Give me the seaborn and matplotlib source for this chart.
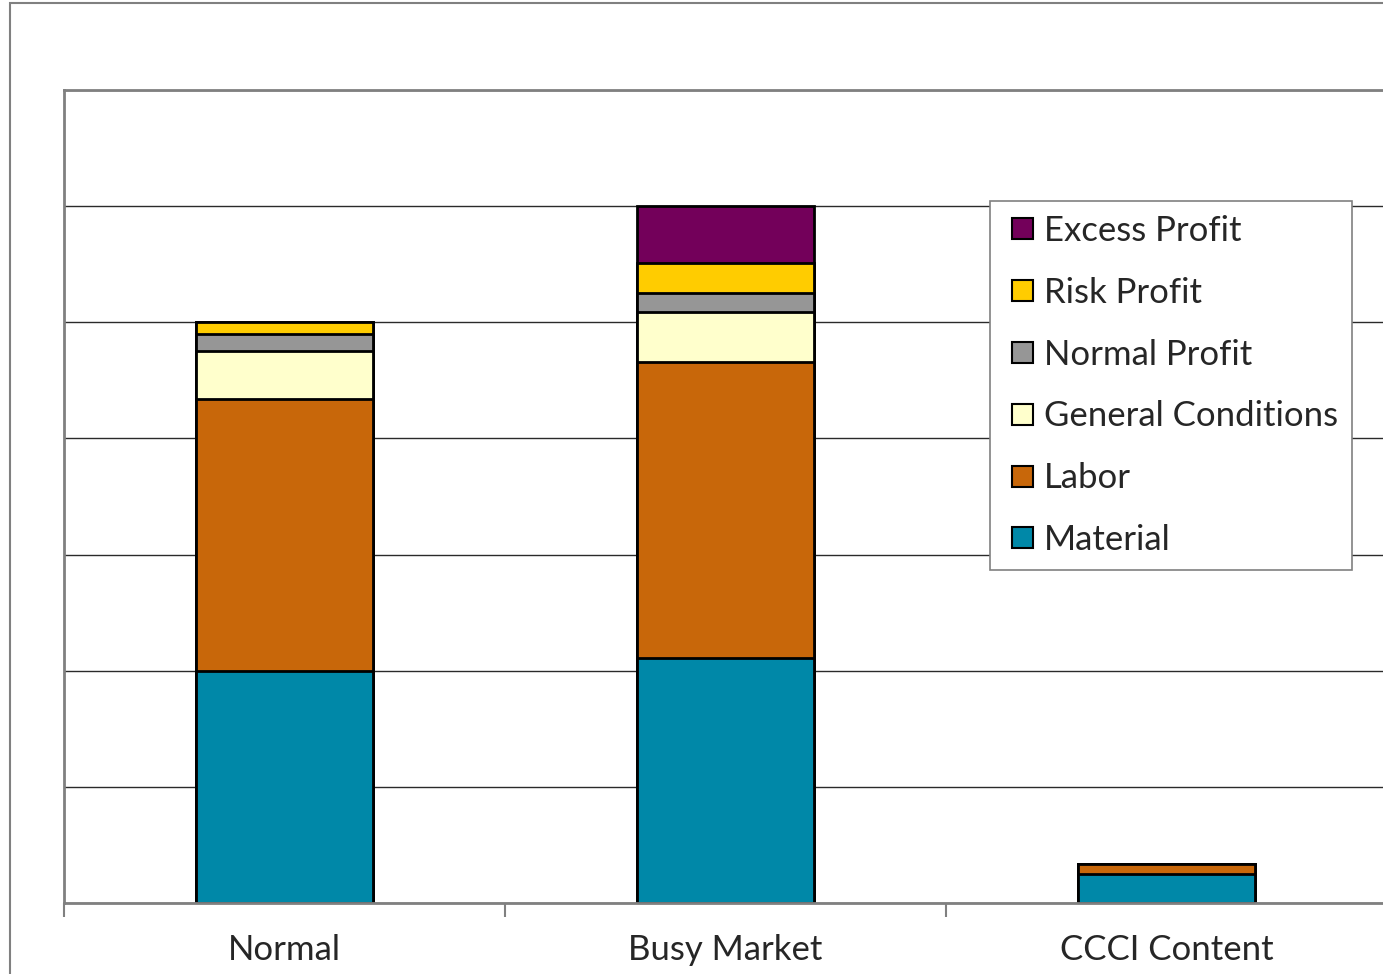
import matplotlib
matplotlib.use("Agg")
import matplotlib.pyplot as plt
import seaborn as sns
import pandas as pd
from matplotlib.patches import Patch, Rectangle
from matplotlib.legend_handler import HandlerPatch
from matplotlib.ticker import FixedLocator

# Cost build-up per market condition
categories = ["Normal", "Busy Market", "CCCI Content"]
material = [20.0, 21.1, 2.5]
labor = [23.4, 25.5, 0.9]
general_conditions = [4.1, 4.3, 0.0]
normal_profit = [1.45, 1.65, 0.0]
risk_profit = [1.1, 2.55, 0.0]
excess_profit = [0.0, 4.9, 0.0]

series_names = ["Material", "Labor", "General Conditions",
                "Normal Profit", "Risk Profit", "Excess Profit"]
series_values = [material, labor, general_conditions,
                 normal_profit, risk_profit, excess_profit]
series_colors = ["#0088A8", "#C8670A", "#FFFFCC", "#969696", "#FFCC00", "#73005A"]

sns.set_theme(style="white")
plt.rcParams["font.family"] = ["Lato", "DejaVu Sans"]

W, H = 1383, 974
FS = 25
fig = plt.figure(figsize=(W / 100, H / 100), dpi=100)
ax = fig.add_axes([64 / W, 71 / H, 1323 / W, 813 / H])

df = pd.DataFrame({n: v for n, v in zip(series_names, series_values)}, index=categories)
cum = df.cumsum(axis=1)

# stacked bars: draw cumulative totals from the top segment down
for name, color in reversed(list(zip(series_names, series_colors))):
    sns.barplot(x=categories, y=cum[name].values, color=color, saturation=1,
                width=0.4, edgecolor="black", linewidth=2, ax=ax)

ax.set_xlim(-0.5, 2.5)
ax.set_ylim(0, 70)
ax.set_axisbelow(True)
ax.set_yticks(range(0, 71, 10))
ax.set_yticklabels([])
ax.tick_params(axis="y", length=0)
ax.grid(axis="y", color="#2a2a2a", linewidth=1)
ax.grid(axis="x", visible=False)

ax.set_xticks(range(len(categories)))
ax.set_xticklabels(categories, fontsize=FS)
ax.tick_params(axis="x", which="major", length=0, pad=22)
ax.xaxis.set_minor_locator(FixedLocator([-0.5, 0.5, 1.5, 2.5]))
ax.tick_params(axis="x", which="minor", length=10, width=1.5, color="#808080",
               direction="out", bottom=True)
ax.set_xlabel("")
ax.set_ylabel("")

for side in ["left", "top", "bottom"]:
    ax.spines[side].set_color("#808080")
    ax.spines[side].set_linewidth(2)
ax.spines["right"].set_visible(False)


def square_patch(legend, orig_handle, xdescent, ydescent, width, height, fontsize):
    # small square key placed at the right end of the handle box
    side = 21 * 72 / 100
    return Rectangle((-xdescent + width - side, -ydescent + (height - side) / 2),
                     side, side)


handles = [Patch(facecolor=c, edgecolor="black", linewidth=1.5, label=n)
           for n, c in zip(series_names, series_colors)][::-1]
leg = fig.legend(handles=handles, loc="upper left",
                 bbox_to_anchor=(990 / W, 1 - 201 / H), borderaxespad=0,
                 fontsize=FS, frameon=True, fancybox=False, framealpha=1,
                 handlelength=0.84, handleheight=0.6, handletextpad=0.32,
                 labelspacing=0.86, borderpad=0.4,
                 handler_map={Patch: HandlerPatch(patch_func=square_patch)})
leg.get_frame().set_edgecolor("#808080")
leg.get_frame().set_linewidth(1.2)

# outer chart-area border
fig.add_artist(Rectangle((10 / W, -0.1), 1.2, 1 - 3 / H + 0.1,
                         transform=fig.transFigure, fill=False,
                         edgecolor="#808080", linewidth=1.5))

fig.savefig("out.png", dpi=100)
